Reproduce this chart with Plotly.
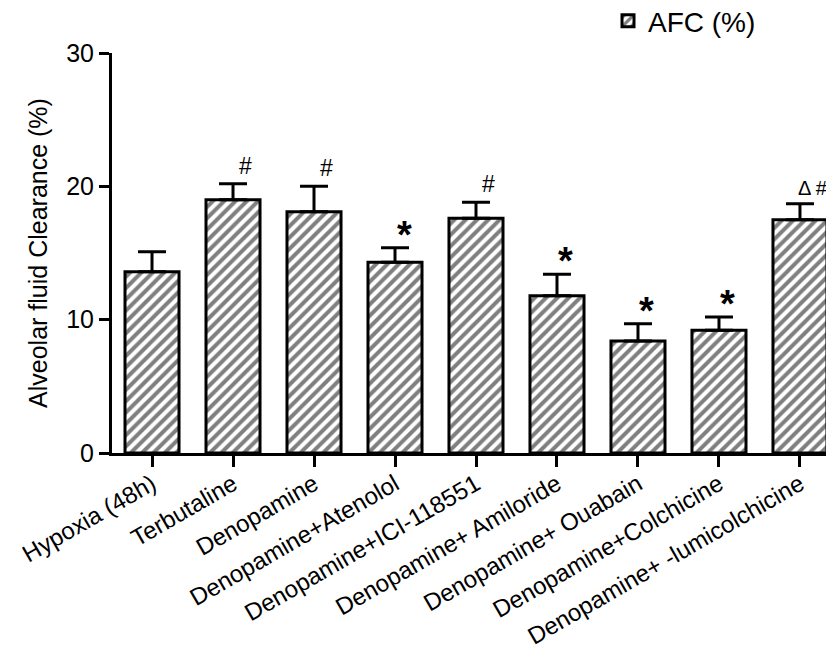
import plotly.graph_objects as go

categories = ["Hypoxia (48h)", "Terbutaline", "Denopamine", "Denopamine+Atenolol",
              "Denopamine+ICI-118551", "Denopamine+ Amiloride", "Denopamine+ Ouabain",
              "Denopamine+Colchicine", "Denopamine+ -lumicolchicine"]
afc = [13.6, 19.0, 18.1, 14.3, 17.6, 11.8, 8.4, 9.2, 17.5]
sem = [1.5, 1.2, 1.9, 1.1, 1.2, 1.6, 1.3, 1.0, 1.2]
marks = ["", "#", "#", "*", "#", "*", "*", "*", "Δ #"]
y_ticks = [0, 10, 20, 30]

FONT = "Liberation Sans, Arial, sans-serif"

fig = go.Figure()
fig.add_trace(go.Bar(
    x=categories, y=afc, name="AFC (%)",
    marker=dict(color="white", line=dict(color="black", width=3),
                pattern=dict(shape="/", fgcolor="black", bgcolor="white", size=8, solidity=0.5)),
    error_y=dict(type="data", array=sem, arrayminus=[0] * len(sem), symmetric=False,
                 color="black", thickness=3, width=14),
))

for c, v, e, m in zip(categories, afc, sem, marks):
    if not m:
        continue
    star = m == "*"
    delta = "Δ" in m
    fig.add_annotation(
        x=c, y=v + e, xref="x", yref="y", text=m, showarrow=False,
        xanchor="left" if delta else "center", yanchor="bottom",
        xshift=-4 if delta else (9 if star else 12),
        yshift=-10 if star else 3,
        font=dict(family=FONT, size=38 if star else (20 if delta else 23), color="black",
                  weight="bold" if star else "normal"),
    )

fig.update_layout(
    width=834, height=655,
    margin=dict(l=104, r=8, t=45, b=210, autoexpand=False),
    paper_bgcolor="white", plot_bgcolor="white",
    bargap=0.333,
    font=dict(family=FONT, size=25, color="black"),
    showlegend=True,
    legend=dict(x=0.687, y=1.08, xanchor="left", yanchor="middle",
                font=dict(family=FONT, size=28, color="black"), bgcolor="rgba(0,0,0,0)"),
    xaxis=dict(range=[-0.494, 8.42], showline=True, linecolor="black", linewidth=3,
               ticks="outside", ticklen=11, tickwidth=3, tickcolor="black", automargin=False,
               tickangle=-30, tickfont=dict(size=24), ticklabelstandoff=-6,
               showgrid=False, zeroline=False),
    yaxis=dict(range=[0, 30], tickvals=y_ticks, showline=True, linecolor="black", linewidth=3,
               ticks="outside", ticklen=10, tickwidth=3, tickcolor="black", automargin=False,
               tickfont=dict(size=25), showgrid=False, zeroline=False,
               title=dict(text="Alveolar fluid Clearance (%)", font=dict(size=25), standoff=12)),
)

fig.write_html("out.html")
